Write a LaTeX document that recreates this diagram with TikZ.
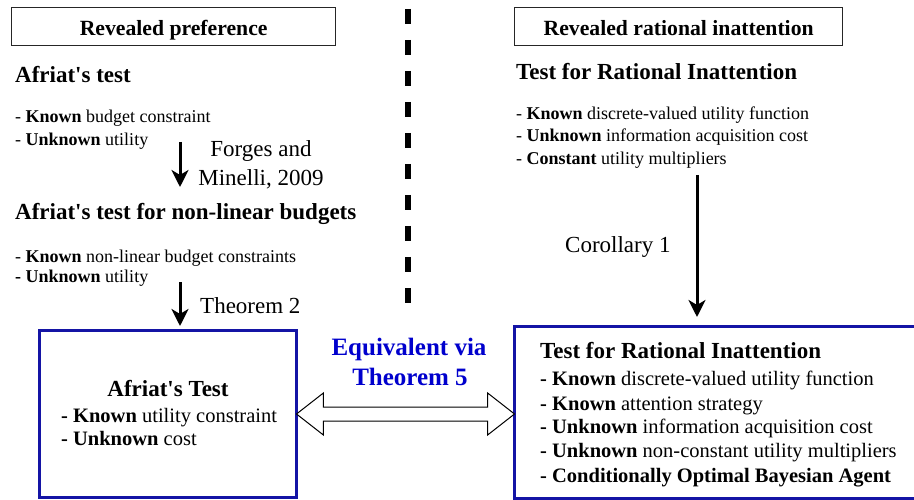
\documentclass[tikz,border=0pt]{standalone}
\usepackage{fontspec}
\setmainfont{Liberation Serif}[Ligatures=TeXOff]
\usetikzlibrary{arrows.meta,shapes.arrows,calc}
\definecolor{boxblue}{RGB}{20,20,165}
\definecolor{txtblue}{RGB}{0,0,205}
\tikzset{
 txt/.style={anchor=base west, inner sep=0pt, font=\fontsize{18}{20}\selectfont},
 big/.style={anchor=base west, inner sep=0pt, font=\fontsize{23}{26}\selectfont\bfseries},
 boxtxt/.style={anchor=base west, inner sep=0pt, font=\fontsize{20.5}{24}\selectfont},
 lbl/.style={anchor=base, inner sep=0pt, font=\fontsize{23}{26}\selectfont},
 hdr/.style={draw=black!85, line width=1.3pt, inner sep=0pt, anchor=north west},
 hdrtxt/.style={anchor=base, inner sep=0pt, font=\fontsize{21.7}{24}\selectfont\bfseries},
 bluebox/.style={draw=boxblue, line width=3pt, inner sep=0pt, anchor=north west},
 arr/.style={line width=3pt, -{Stealth[length=17pt,width=17pt,inset=5pt]}},
 eqtxt/.style={anchor=base, inner sep=0pt, text=txtblue, font=\fontsize{25}{28}\selectfont\bfseries},
}
\begin{document}
\begin{tikzpicture}[x=1pt,y=-1pt]
\useasboundingbox (0,0) rectangle (914,500);
\clip (0,0) rectangle (914,500);
% headers
\node[hdr, minimum width=324pt, minimum height=38pt] (h1) at (11,7) {};
\node[hdrtxt] (h1t) at (h1.center |- 0,36) {Revealed preference};
\node[hdr, minimum width=328pt, minimum height=38pt] (h2) at (514,7) {};
\node[hdrtxt] (h2t) at (h2.center |- 0,36) {Revealed rational inattention};
% divider
\coordinate (d1) at (408,9);
\coordinate (d2) at (408,303);
\draw[line width=5.5pt, dash pattern=on 15pt off 16pt] (d1) -- (d2);
% left column
\node[big] (at1) at (15,83) {Afriat's test};
\node[txt] (at1a) at (15,123) {- \textbf{Known} budget constraint};
\node[txt] (at1b) at (15,146) {- \textbf{Unknown} utility};
\coordinate (a1s) at (180,142);
\coordinate (a1e) at (180,187);
\draw[arr] (a1s) -- (a1e);
\node[lbl] (fm1) at (261,157) {Forges and};
\node[lbl] (fm2) at (261,186) {Minelli, 2009};
\node[big] (at2) at (15,220) {Afriat's test for non-linear budgets};
\node[txt] (at2a) at (15,262) {- \textbf{Known} non-linear budget constraints};
\node[txt] (at2b) at (15,282) {\textbf{- Unknown} utility};
\coordinate (a2s) at (180,282);
\coordinate (a2e) at (180,326);
\draw[arr] (a2s) -- (a2e);
\node[lbl, anchor=base west] (th2) at (200,313) {Theorem 2};
% right column
\node[big] (ri1) at (516,80) {Test for Rational Inattention};
\node[txt] (ri1a) at (516,120) {- \textbf{Known} discrete-valued utility function};
\node[txt] (ri1b) at (516,142) {- \textbf{Unknown} information acquisition cost};
\node[txt] (ri1c) at (516,165) {- \textbf{Constant} utility multipliers};
\coordinate (a3s) at (697,175);
\coordinate (a3e) at (697,317);
\draw[arr] (a3s) -- (a3e);
\node[lbl, anchor=base west] (cor) at (565,252) {Corollary 1};
% bottom boxes
\node[bluebox, minimum width=257pt, minimum height=167pt] (lb) at (38,329) {};
\node[big, anchor=base] (lbt) at (168,396) {Afriat's Test};
\node[boxtxt] (lba) at (61,422) {\textbf{- Known} utility constraint};
\node[boxtxt] (lbb) at (61,445) {\textbf{- Unknown} cost};
\node[bluebox, minimum width=420pt, minimum height=172pt] (rb) at (513,325) {};
\node[big] (rbt) at (540,358) {Test for Rational Inattention};
\node[boxtxt] (rba) at (540,385) {\textbf{- Known} discrete-valued utility function};
\node[boxtxt] (rbb) at (540,410) {\textbf{- Known} attention strategy};
\node[boxtxt] (rbc) at (540,433) {\textbf{- Unknown} information acquisition cost};
\node[boxtxt] (rbd) at (540,457) {\textbf{- Unknown} non-constant utility multipliers};
\node[boxtxt] (rbe) at (540,482) {\textbf{- Conditionally Optimal Bayesian Agent}};
% equivalence
\node[double arrow, draw=black, line width=1pt, fill=white, minimum height=218pt,
      inner xsep=0pt, inner ysep=6.5pt, double arrow head extend=14pt,
      double arrow head indent=0pt, double arrow tip angle=76, anchor=center]
      (eq) at ($(lb.east)!0.5!(rb.west |- lb.east)$) {};
\node[eqtxt] (eq1) at (409,355) {Equivalent via};
\node[eqtxt] (eq2) at (410,385) {Theorem 5};
\end{tikzpicture}
\end{document}
